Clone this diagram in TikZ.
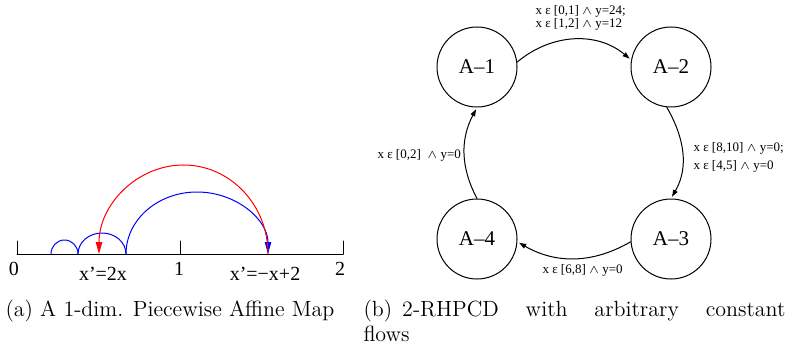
\documentclass[tikz,border=0pt]{standalone}
\usepackage{fontspec}
\newfontfamily\tmsfont{Liberation Serif}
\usetikzlibrary{arrows.meta}

\definecolor{arcblue}{RGB}{0,0,255}
\definecolor{arcred}{RGB}{255,0,0}

\begin{document}
\begin{tikzpicture}[line cap=round, line join=round, x=0.5pt, y=0.5pt, line width=0.5pt,
    state/.style={circle, draw, minimum size=40pt, inner sep=0pt, font=\tmsfont\fontsize{10.5}{12}\selectfont},
    guard/.style={anchor=west, inner sep=0pt, align=left, font=\tmsfont\fontsize{6.5}{6.7}\selectfont},
    flow/.style={-{Triangle[length=3.5pt,width=2.4pt]}, shorten >=1pt},
    jump/.style={-{Triangle[length=6pt,width=3.2pt]}},
    axlabel/.style={inner sep=0pt, font=\tmsfont\fontsize{10}{12}\selectfont},
    caption/.style={inner sep=0pt, font=\fontsize{11}{12.6}\selectfont}]

    \useasboundingbox (0,0) rectangle (790,348);

    % Eje real [0,2]
    \coordinate (o) at (17,94);
    \coordinate (e) at (343,94);
    \draw (o) -- (e);
    \foreach \x/\lab/\dx in {17/0/-3, 180/1/-1, 343/2/-3}
    \draw[shift={(\x,94)}] (0,0) -- (0,13) node[axlabel, anchor=base] (tick\lab) at (\dx,-21) {\lab};

    % Ramas del mapa
    \node[axlabel, anchor=base] (ramaA) at (103,68) {x’=2x};
    \node[axlabel, anchor=base] (ramaB) at (265,68) {x’=−x+2};

    % Trayectorias (azul: x'=2x, rojo: x'=-x+2)
    \coordinate (p1) at (51,94);
    \coordinate (p2) at (78,94);
    \coordinate (p3) at (126,94);
    \coordinate (p4) at (268,94);
    \draw[arcblue] (p1) arc[start angle=180, end angle=0, x radius=13.5, y radius=14];
    \draw[arcblue] (p2) arc[start angle=180, end angle=0, x radius=24, y radius=21];
    \draw[arcblue, jump] (p3) arc[start angle=180, end angle=0, x radius=71, y radius=62];
    \draw[arcred, jump] (p4) arc[start angle=0, end angle=180, x radius=84.5, y radius=89];

    % Automata 2-RHPCD
    \node[state] (A1) at (477,281) {A–1};
    \node[state] (A2) at (671,281) {A–2};
    \node[state] (A3) at (671,109) {A–3};
    \node[state] (A4) at (477,109) {A–4};

    \draw[flow] (A1.7) to[out=40, in=140] (A2.170);
    \draw[flow] (A2.264) to[out=-60, in=60] (A3.90);
    \draw[flow] (A3.184) to[out=210, in=-30] (A4.-4);
    \draw[flow] (A4.90) to[out=118, in=-118] (A1.270);

    % Guardas
    \node[guard] (g12) at (535,330) {x ε [0,1] $\wedge$ y=24;\\x ε [1,2] $\wedge$ y=12};
    \node[guard] (g23) at (693,191) {x ε [8,10] $\wedge$ y=0;\\[2.3pt]x ε [4,5] $\wedge$ y=0};
    \node[guard] (g34) at (542,78) {x ε [6,8] $\wedge$ y=0};
    \node[guard] (g41) at (377,193) {x ε [0,2]\ \ $\wedge$ y=0};

    % Subtitulos
    \node[caption, anchor=base west] (capA) at (5,32) {(a) A 1-dim. Piecewise Affine Map};
    \node[caption, anchor=base west, text width=211pt, align=justify] (capB) at (363,32)
    {(b)\hspace{5pt}2-RHPCD with arbitrary constant\linebreak flows};

\end{tikzpicture}
\end{document}
